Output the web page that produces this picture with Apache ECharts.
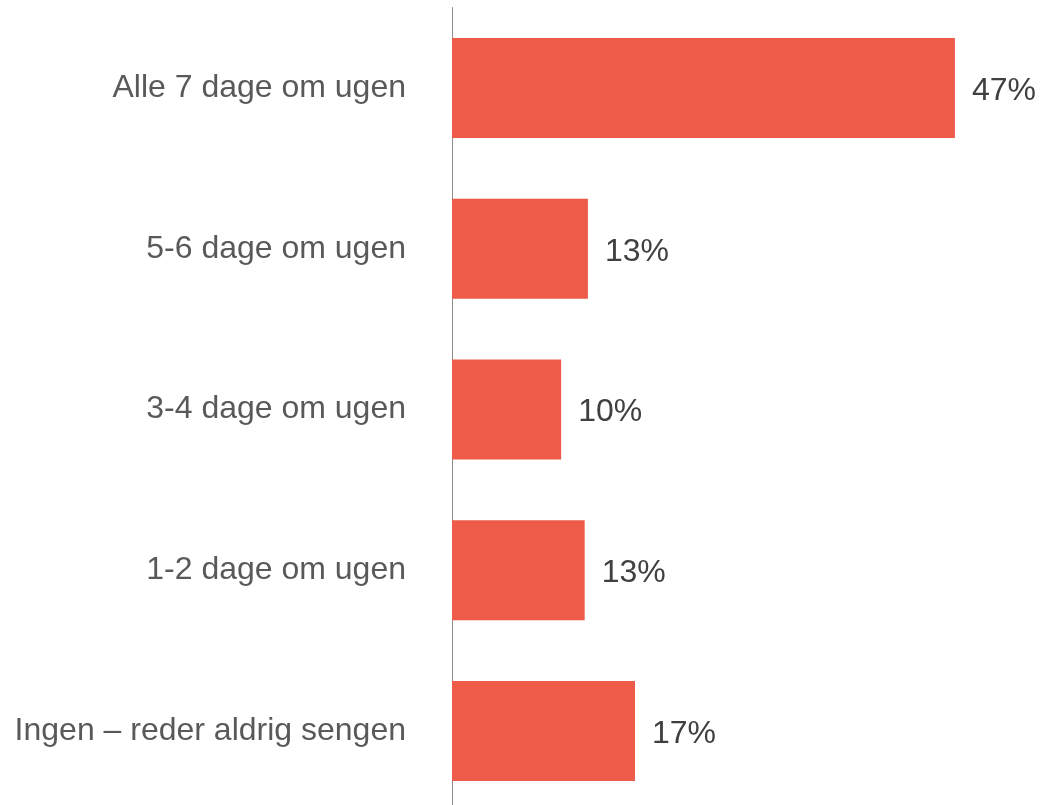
<!DOCTYPE html>
<html>
<head>
<meta charset="utf-8">
<script src="https://cdn.jsdelivr.net/npm/echarts@6/dist/echarts.min.js"></script>
<style>html,body{margin:0;padding:0;background:#fff;overflow:hidden;}#c{width:1040px;height:812px;}</style>
</head>
<body>
<div id="c"></div>
<script>
const categories = ["Alle 7 dage om ugen", "5-6 dage om ugen", "3-4 dage om ugen", "1-2 dage om ugen", "Ingen – reder aldrig sengen"];
const values = [47, 12.7, 10.2, 12.4, 17.1];
const valueLabels = ["47%", "13%", "10%", "13%", "17%"];

const chart = echarts.init(document.getElementById('c'));
chart.setOption({
  animation: false,
  grid: { left: 452, right: 0, top: 7.6, bottom: 0.6, containLabel: false },
  xAxis: { type: 'value', min: 0, max: 54.95, show: false },
  yAxis: {
    type: 'category', inverse: true, data: categories,
    axisLine: { show: true, lineStyle: { color: '#8c8c8c', width: 1 } },
    axisTick: { show: false },
    axisLabel: { margin: 46, fontFamily: 'Liberation Sans', fontSize: 32, color: '#595959', padding: [3, 0, 0, 0] }
  },
  series: [{
    type: 'bar', data: values, barWidth: '62.2%',
    itemStyle: { color: '#EE5B48' },
    label: {
      show: true, position: 'right', distance: 17, offset: [0, 3],
      fontFamily: 'Liberation Sans', fontSize: 32, color: '#404040',
      formatter: p => valueLabels[p.dataIndex]
    }
  }]
});
</script>
</body>
</html>
